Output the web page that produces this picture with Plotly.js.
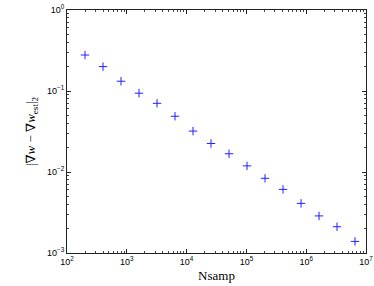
<!DOCTYPE html>
<html><head><meta charset="utf-8">
<script src="https://cdn.plot.ly/plotly-3.0.1.min.js"></script>
<style>html,body{margin:0;padding:0;background:#fff}#c{width:374px;height:286px}</style>
</head><body><div id="c"></div>
<script>
const nsamp = [200, 400, 800, 1600, 3200, 6400, 12800, 25600, 51200, 102400, 204800, 409600, 819200, 1638400, 3276800, 6553600];
const err = [0.278, 0.200, 0.132, 0.094, 0.0705, 0.0488, 0.032, 0.0225, 0.0168, 0.0119, 0.00836, 0.0061, 0.0041, 0.00287, 0.00211, 0.00139];
const xTickVals = [1e2, 1e3, 1e4, 1e5, 1e6, 1e7];
const xTickText = ['10<sup>2</sup>','10<sup>3</sup>','10<sup>4</sup>','10<sup>5</sup>','10<sup>6</sup>','10<sup>7</sup>'];
const yTickVals = [1e-3, 1e-2, 1e-1, 1];
const yTickText = ['10<sup>−3</sup>','10<sup>−2</sup>','10<sup>−1</sup>','10<sup>0</sup>'];

const axisCommon = {
  type: 'log', showgrid: false, zeroline: false,
  showline: true, linecolor: '#222', linewidth: 1, mirror: 'allticks',
  ticks: 'inside', ticklen: 4, tickcolor: '#222', tickwidth: 1,
  tickfont: {family: 'Liberation Sans, Arial, sans-serif', size: 9, color: '#000'},
  minor: {ticks: 'inside', ticklen: 2, tickcolor: '#444', dtick: 'D1'}
};

Plotly.newPlot('c', [{
  x: nsamp, y: err, type: 'scatter', mode: 'markers',
  marker: {symbol: 'cross-thin', size: 6, line: {color: '#2020ff', width: 1}, color: '#2020ff'}
}], {
  width: 374, height: 286,
  margin: {l: 67, r: 8, t: 10, b: 33},
  paper_bgcolor: '#fff', plot_bgcolor: '#fff',
  showlegend: false,
  xaxis: Object.assign({}, axisCommon, {
    range: [2, 7], tickmode: 'array', tickvals: xTickVals, ticktext: xTickText,
    title: {text: 'Nsamp', font: {family: 'Liberation Serif, DejaVu Serif, serif', size: 13, color: '#000'}, standoff: 5}
  }),
  yaxis: Object.assign({}, axisCommon, {
    range: [-3, 0], tickmode: 'array', tickvals: yTickVals, ticktext: yTickText,
    title: {text: '|∇<i>w</i> − ∇<i>w</i><sub>est</sub>|<sub>2</sub>', font: {family: 'Liberation Serif, DejaVu Serif, serif', size: 13, color: '#000'}, standoff: 8}
  })
}, {staticPlot: true});
</script>
</body></html>
